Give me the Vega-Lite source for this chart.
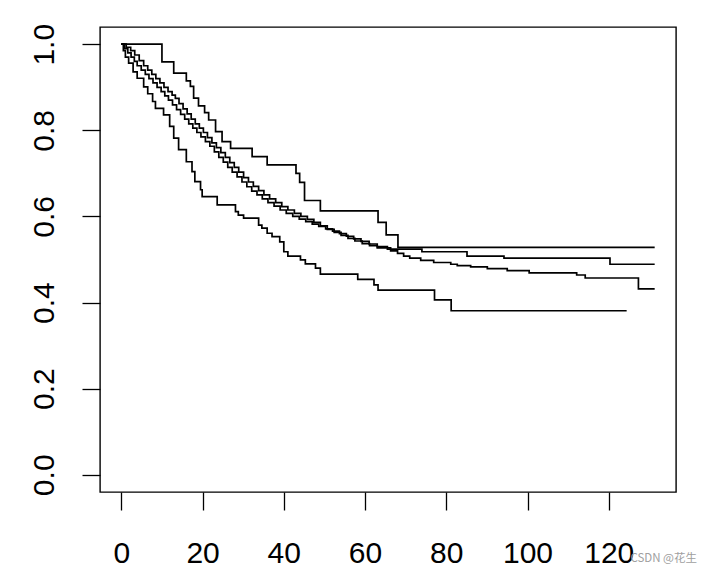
{
  "$schema": "https://vega.github.io/schema/vega-lite/v6.json",
  "width": 576,
  "height": 465,
  "autosize": {"type": "none"},
  "padding": {"left": 100, "top": 27, "right": 36, "bottom": 82},
  "background": "white",
  "config": {
    "font": "Liberation Sans",
    "view": {"stroke": "black", "strokeWidth": 1.4}
  },
  "title": {
    "text": "CSDN @花生",
    "orient": "bottom",
    "anchor": "end",
    "fontSize": 11.5,
    "fontWeight": "normal",
    "font": "Noto Sans CJK SC",
    "color": "#a0a0a0",
    "offset": -15,
    "dx": 21
  },
  "data": {
    "values": [
      {"g":"A","t":0,"s":1},{"g":"A","t":10.0,"s":0.959},{"g":"A","t":12.9,"s":0.933},{"g":"A","t":16.0,"s":0.915},{"g":"A","t":17.0,"s":0.902},{"g":"A","t":17.8,"s":0.875},{"g":"A","t":19.0,"s":0.857},{"g":"A","t":20.5,"s":0.841},{"g":"A","t":21.5,"s":0.824},{"g":"A","t":23.2,"s":0.797},{"g":"A","t":24.8,"s":0.774},{"g":"A","t":26.9,"s":0.758},{"g":"A","t":32.2,"s":0.739},{"g":"A","t":35.9,"s":0.72},{"g":"A","t":43.0,"s":0.7},{"g":"A","t":43.9,"s":0.679},{"g":"A","t":45.1,"s":0.637},{"g":"A","t":49.0,"s":0.613},{"g":"A","t":63.2,"s":0.586},{"g":"A","t":65.2,"s":0.557},{"g":"A","t":68.1,"s":0.528},{"g":"A","t":131.3,"s":0.528},
      {"g":"B","t":0,"s":1},{"g":"B","t":0.8,"s":0.99},{"g":"B","t":1.6,"s":0.98},{"g":"B","t":2.4,"s":0.97},{"g":"B","t":3.2,"s":0.96},{"g":"B","t":3.9,"s":0.95},{"g":"B","t":4.9,"s":0.94},{"g":"B","t":5.9,"s":0.93},{"g":"B","t":6.8,"s":0.92},{"g":"B","t":7.8,"s":0.91},{"g":"B","t":8.8,"s":0.9},{"g":"B","t":9.8,"s":0.89},{"g":"B","t":10.7,"s":0.88},{"g":"B","t":11.6,"s":0.87},{"g":"B","t":12.6,"s":0.859},{"g":"B","t":13.6,"s":0.848},{"g":"B","t":14.6,"s":0.837},{"g":"B","t":15.6,"s":0.826},{"g":"B","t":16.6,"s":0.815},{"g":"B","t":17.6,"s":0.805},{"g":"B","t":18.6,"s":0.795},{"g":"B","t":19.6,"s":0.785},{"g":"B","t":20.7,"s":0.774},{"g":"B","t":21.8,"s":0.763},{"g":"B","t":22.9,"s":0.75},{"g":"B","t":24,"s":0.737},{"g":"B","t":25.1,"s":0.726},{"g":"B","t":26.2,"s":0.714},{"g":"B","t":27.3,"s":0.703},{"g":"B","t":28.5,"s":0.692},{"g":"B","t":29.7,"s":0.68},{"g":"B","t":30.9,"s":0.669},{"g":"B","t":32.1,"s":0.659},{"g":"B","t":33.4,"s":0.65},{"g":"B","t":34.7,"s":0.641},{"g":"B","t":36.1,"s":0.632},{"g":"B","t":37.6,"s":0.624},{"g":"B","t":39.1,"s":0.615},{"g":"B","t":40.6,"s":0.607},{"g":"B","t":42.2,"s":0.6},{"g":"B","t":43.8,"s":0.594},{"g":"B","t":45.4,"s":0.588},{"g":"B","t":47,"s":0.582},{"g":"B","t":48.6,"s":0.577},{"g":"B","t":50.3,"s":0.571},{"g":"B","t":52,"s":0.566},{"g":"B","t":53.7,"s":0.56},{"g":"B","t":55.4,"s":0.554},{"g":"B","t":57.2,"s":0.548},{"g":"B","t":59,"s":0.542},{"g":"B","t":61,"s":0.536},{"g":"B","t":63,"s":0.53},{"g":"B","t":65.5,"s":0.524},{"g":"B","t":74,"s":0.518},{"g":"B","t":85.1,"s":0.508},{"g":"B","t":94.2,"s":0.503},{"g":"B","t":120.3,"s":0.489},{"g":"B","t":131.3,"s":0.489},
      {"g":"C","t":0,"s":1},{"g":"C","t":1.2,"s":0.993},{"g":"C","t":2.3,"s":0.985},{"g":"C","t":3.3,"s":0.975},{"g":"C","t":4.4,"s":0.962},{"g":"C","t":5.5,"s":0.95},{"g":"C","t":6.5,"s":0.94},{"g":"C","t":7.5,"s":0.93},{"g":"C","t":8.5,"s":0.92},{"g":"C","t":9.5,"s":0.91},{"g":"C","t":10.5,"s":0.9},{"g":"C","t":11.5,"s":0.89},{"g":"C","t":12.5,"s":0.882},{"g":"C","t":13.3,"s":0.874},{"g":"C","t":14.2,"s":0.862},{"g":"C","t":15.2,"s":0.85},{"g":"C","t":16.2,"s":0.838},{"g":"C","t":17.2,"s":0.826},{"g":"C","t":18.2,"s":0.815},{"g":"C","t":19.2,"s":0.805},{"g":"C","t":20.2,"s":0.795},{"g":"C","t":21.2,"s":0.783},{"g":"C","t":22.3,"s":0.771},{"g":"C","t":23.4,"s":0.76},{"g":"C","t":24.5,"s":0.748},{"g":"C","t":25.6,"s":0.737},{"g":"C","t":26.7,"s":0.725},{"g":"C","t":27.8,"s":0.714},{"g":"C","t":28.9,"s":0.703},{"g":"C","t":30.1,"s":0.69},{"g":"C","t":31.3,"s":0.68},{"g":"C","t":32.5,"s":0.67},{"g":"C","t":33.8,"s":0.66},{"g":"C","t":35.1,"s":0.65},{"g":"C","t":36.5,"s":0.641},{"g":"C","t":38,"s":0.632},{"g":"C","t":39.5,"s":0.623},{"g":"C","t":41,"s":0.615},{"g":"C","t":42.6,"s":0.607},{"g":"C","t":44.2,"s":0.6},{"g":"C","t":45.8,"s":0.593},{"g":"C","t":47.4,"s":0.586},{"g":"C","t":49,"s":0.578},{"g":"C","t":50.7,"s":0.57},{"g":"C","t":52.4,"s":0.563},{"g":"C","t":54.1,"s":0.556},{"g":"C","t":55.8,"s":0.549},{"g":"C","t":57.5,"s":0.543},{"g":"C","t":59.3,"s":0.537},{"g":"C","t":61.1,"s":0.532},{"g":"C","t":63,"s":0.527},{"g":"C","t":66.3,"s":0.52},{"g":"C","t":68,"s":0.514},{"g":"C","t":69.5,"s":0.508},{"g":"C","t":71,"s":0.503},{"g":"C","t":73.7,"s":0.498},{"g":"C","t":76.9,"s":0.493},{"g":"C","t":81.1,"s":0.489},{"g":"C","t":82.7,"s":0.486},{"g":"C","t":86,"s":0.483},{"g":"C","t":90.1,"s":0.479},{"g":"C","t":95,"s":0.474},{"g":"C","t":100.4,"s":0.469},{"g":"C","t":112.1,"s":0.464},{"g":"C","t":114.2,"s":0.457},{"g":"C","t":127.3,"s":0.432},{"g":"C","t":131.3,"s":0.432},
      {"g":"D","t":0,"s":1},{"g":"D","t":0.5,"s":0.985},{"g":"D","t":1,"s":0.97},{"g":"D","t":1.8,"s":0.956},{"g":"D","t":2.9,"s":0.936},{"g":"D","t":3.9,"s":0.921},{"g":"D","t":5.5,"s":0.901},{"g":"D","t":6.5,"s":0.885},{"g":"D","t":7.7,"s":0.867},{"g":"D","t":8.4,"s":0.851},{"g":"D","t":10.4,"s":0.836},{"g":"D","t":11.9,"s":0.809},{"g":"D","t":12.9,"s":0.782},{"g":"D","t":14.1,"s":0.755},{"g":"D","t":16,"s":0.727},{"g":"D","t":17.4,"s":0.704},{"g":"D","t":18.1,"s":0.681},{"g":"D","t":19.5,"s":0.662},{"g":"D","t":19.9,"s":0.646},{"g":"D","t":23.6,"s":0.627},{"g":"D","t":28.1,"s":0.611},{"g":"D","t":28.8,"s":0.603},{"g":"D","t":30.1,"s":0.596},{"g":"D","t":33.8,"s":0.58},{"g":"D","t":34.6,"s":0.573},{"g":"D","t":35.9,"s":0.561},{"g":"D","t":37.1,"s":0.553},{"g":"D","t":39,"s":0.541},{"g":"D","t":40,"s":0.518},{"g":"D","t":41,"s":0.508},{"g":"D","t":44.1,"s":0.499},{"g":"D","t":45.3,"s":0.49},{"g":"D","t":47.8,"s":0.48},{"g":"D","t":49,"s":0.466},{"g":"D","t":58.2,"s":0.454},{"g":"D","t":62.2,"s":0.441},{"g":"D","t":63.2,"s":0.429},{"g":"D","t":77.1,"s":0.406},{"g":"D","t":81.2,"s":0.381},{"g":"D","t":124.4,"s":0.381}
    ]
  },
  "mark": {"type": "line", "interpolate": "step-after", "color": "black", "strokeWidth": 1.7},
  "encoding": {
    "detail": {"field": "g"},
    "x": {
      "field": "t", "type": "quantitative",
      "scale": {"domain": [-5.25, 136.55], "nice": false, "zero": false},
      "axis": {
        "title": null, "values": [0, 20, 40, 60, 80, 100, 120], "grid": false, "domain": false,
        "tickSize": 18, "tickColor": "black", "tickWidth": 1.3,
        "labelFontSize": 30, "labelColor": "black", "labelPadding": 28, "labelFont": "Liberation Sans",
        "labelOverlap": false, "labelFlush": false
      }
    },
    "y": {
      "field": "s", "type": "quantitative",
      "scale": {"domain": [-0.04, 1.04], "nice": false, "zero": false},
      "axis": {
        "title": null, "values": [0, 0.2, 0.4, 0.6, 0.8, 1.0], "format": ".1f", "grid": false, "domain": false,
        "tickSize": 18, "tickColor": "black", "tickWidth": 1.3,
        "labelFontSize": 30, "labelColor": "black", "labelFont": "Liberation Sans",
        "labelAngle": 270, "labelAlign": "center", "labelBaseline": "alphabetic", "labelPadding": 29,
        "labelOverlap": false, "labelFlush": false
      }
    }
  }
}
